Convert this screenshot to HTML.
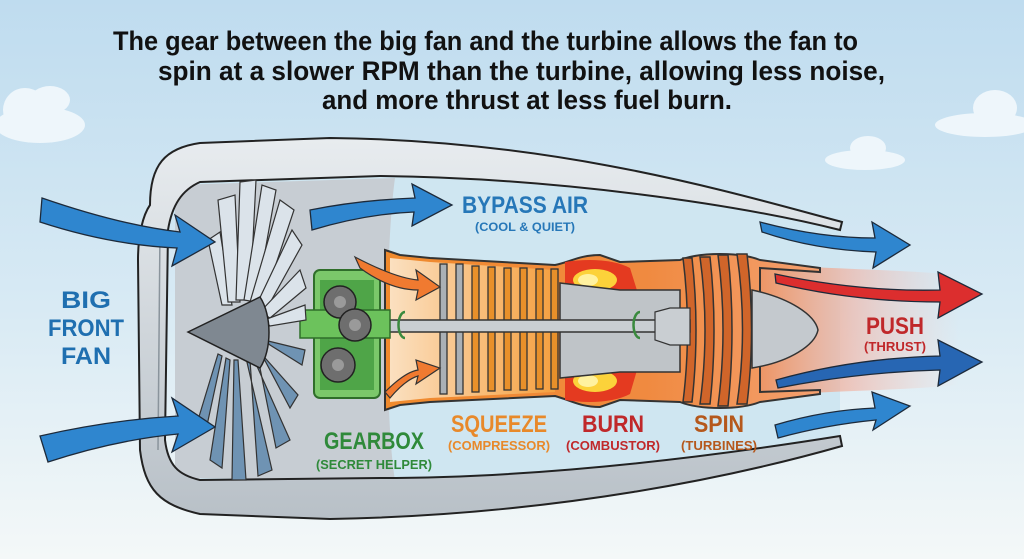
<!DOCTYPE html>
<html><head><meta charset="utf-8"><style>
html,body{margin:0;padding:0;width:1024px;height:559px;overflow:hidden}
svg{display:block}
text{font-family:"Liberation Sans",sans-serif;font-weight:bold}
</style></head><body>
<svg width="1024" height="559" viewBox="0 0 1024 559" xmlns="http://www.w3.org/2000/svg">
<defs>
<linearGradient id="sky" x1="0" y1="0" x2="0" y2="1">
<stop offset="0" stop-color="#bfdcef"/><stop offset="0.55" stop-color="#d8eaf4"/><stop offset="1" stop-color="#f4f8f8"/></linearGradient>
<linearGradient id="comp" x1="0" y1="0" x2="1" y2="0">
<stop offset="0" stop-color="#fbe0c0"/><stop offset="1" stop-color="#f5a040"/></linearGradient>
<linearGradient id="hot" x1="0" y1="0" x2="1" y2="0">
<stop offset="0" stop-color="#f08a2c"/><stop offset="0.6" stop-color="#f08a40"/><stop offset="1" stop-color="#f4a070"/></linearGradient>
<linearGradient id="plume" x1="0" y1="0" x2="1" y2="0">
<stop offset="0" stop-color="#f08a50" stop-opacity="0.95"/><stop offset="0.5" stop-color="#f2b0a0" stop-opacity="0.6"/><stop offset="1" stop-color="#f4c8c0" stop-opacity="0"/></linearGradient>
<linearGradient id="nac" x1="0" y1="0" x2="0" y2="1">
<stop offset="0" stop-color="#e8ecef"/><stop offset="1" stop-color="#b8c0c7"/></linearGradient>
</defs>
<rect width="1024" height="559" fill="url(#sky)"/>
<g fill="#eef6fb">
<ellipse cx="40" cy="125" rx="45" ry="18"/><ellipse cx="25" cy="110" rx="22" ry="22"/><ellipse cx="50" cy="100" rx="20" ry="14"/>
<ellipse cx="985" cy="125" rx="50" ry="12"/><ellipse cx="995" cy="108" rx="22" ry="18"/>
<ellipse cx="865" cy="160" rx="40" ry="10"/><ellipse cx="868" cy="148" rx="18" ry="12"/>
</g>
<g fill="#111" text-anchor="start">
<text x="113" y="50" font-size="27" textLength="745" lengthAdjust="spacingAndGlyphs">The gear between the big fan and the turbine allows the fan to</text>
<text x="158" y="80" font-size="27" textLength="727" lengthAdjust="spacingAndGlyphs">spin at a slower RPM than the turbine, allowing less noise,</text>
<text x="322" y="109" font-size="27" textLength="410" lengthAdjust="spacingAndGlyphs">and more thrust at less fuel burn.</text>
</g>
<!-- nacelle interior -->
<path d="M190,180 L380,176 C600,180 760,215 840,228 L840,438 C760,450 600,478 380,478 L200,480 Z" fill="#cfe6f1"/>
<path d="M175,185 L395,178 C385,250 385,420 395,480 L175,478 Z" fill="#c7cdd3"/>
<!-- plume -->
<path d="M750,262 C820,270 880,268 960,275 L960,385 C880,392 820,390 750,398 Z" fill="url(#plume)"/>
<!-- nacelle -->
<path d="M150,205 C150,165 165,148 200,143 L330,138 C560,140 740,195 842,222 L840,230 C740,205 560,178 380,176 L200,182 C182,190 172,205 168,230 L165,440 C168,465 178,475 200,480 L380,478 C560,478 740,452 840,436 L842,446 C740,475 560,515 330,519 L200,514 C160,505 145,490 140,450 L138,260 C138,235 143,215 150,205 Z" fill="url(#nac)" stroke="#222" stroke-width="2"/>
<path d="M160,230 L158,450" stroke="#8a949c" stroke-width="1.5" fill="none"/>
<!-- core -->
<path d="M385,250 L400,255 L430,258 L555,265 C570,262 580,255 600,255 L620,262 L680,260 C700,252 740,252 760,260 L820,268 L820,272 L760,268 L760,392 L820,390 L820,394 L760,402 C740,410 700,410 680,402 L620,400 L600,407 C580,407 570,400 555,396 L430,402 L400,405 L385,410 Z" fill="url(#hot)" stroke="#333" stroke-width="2"/>
<path d="M390,258 L430,262 L555,270 L555,392 L430,398 L390,402 Z" fill="url(#comp)"/>
<path d="M565,262 C590,258 615,260 630,268 L640,300 L565,300 Z" fill="#e43a20"/>
<path d="M565,360 L640,360 L630,394 C615,402 590,404 565,400 Z" fill="#e43a20"/>
<g fill="#fcd23a"><ellipse cx="595" cy="280" rx="22" ry="11"/><ellipse cx="595" cy="381" rx="22" ry="11"/></g>
<g fill="#fff2a0"><ellipse cx="588" cy="280" rx="10" ry="6"/><ellipse cx="588" cy="381" rx="10" ry="6"/></g>
<path d="M560,283 L620,290 L680,290 L680,372 L620,372 L560,378 Z" fill="#bfc4c8" stroke="#333" stroke-width="1.5"/>
<g stroke="#333" stroke-width="1.3">
<rect x="440" y="264" width="7" height="130" fill="#aab0b5"/>
<rect x="456" y="264" width="7" height="130" fill="#aab0b5"/>
<rect x="472" y="266" width="7" height="126" fill="#e8902a"/>
<rect x="488" y="267" width="7" height="124" fill="#e8902a"/>
<rect x="504" y="268" width="7" height="122" fill="#e8902a"/>
<rect x="520" y="268" width="7" height="122" fill="#e8902a"/>
<rect x="536" y="269" width="7" height="120" fill="#e8902a"/>
<rect x="551" y="269" width="7" height="120" fill="#e8902a"/>
</g>
<g stroke="#333" stroke-width="1.5" fill="#d0652a">
<path d="M683,258 Q692,330 683,402 L692,402 Q700,330 692,258 Z"/>
<path d="M700,257 Q710,330 700,404 L710,404 Q718,330 710,257 Z"/>
<path d="M718,255 Q728,330 718,406 L728,406 Q736,330 728,255 Z"/>
<path d="M737,254 Q748,330 737,404 L747,404 Q756,330 747,254 Z"/>
</g>
<rect x="378" y="320" width="312" height="12" fill="#c9ced2" stroke="#333" stroke-width="1.5"/>
<path d="M655,312 L670,308 L690,308 L690,345 L670,345 L655,340 Z" fill="#c9ced2" stroke="#333" stroke-width="1.2"/>
<path d="M752,290 C790,298 815,315 818,330 C815,345 790,362 752,368 Z" fill="#c4c9ce" stroke="#333" stroke-width="1.5"/>
<g stroke="#3a8a3e" stroke-width="2.5" fill="none">
<path d="M405,312 A6,12 0 1,0 405,338"/><path d="M640,312 A6,12 0 1,0 640,338"/></g>
<rect x="314" y="270" width="66" height="128" rx="6" fill="#7bc86a" stroke="#2f6e2a" stroke-width="2"/>
<rect x="320" y="280" width="54" height="110" fill="#4fa548"/>
<rect x="300" y="310" width="90" height="28" fill="#6cc25c" stroke="#2f6e2a" stroke-width="1.5"/>
<g fill="#6e6e6e" stroke="#222" stroke-width="1.5">
<circle cx="340" cy="302" r="16"/><circle cx="355" cy="325" r="16"/><circle cx="338" cy="365" r="17"/></g>
<g fill="#9a9a9a"><circle cx="340" cy="302" r="6"/><circle cx="355" cy="325" r="6"/><circle cx="338" cy="365" r="6"/></g>
<!-- fan blades -->
<g stroke="#333" stroke-width="1.2">
<g fill="#dbe3ea">
<path d="M222,305 L208,240 L220,232 L232,305 Z"/>
<path d="M228,302 L218,200 L235,195 L240,302 Z"/>
<path d="M236,300 L240,182 L256,180 L250,300 Z"/>
<path d="M244,300 L262,185 L276,190 L256,302 Z"/>
<path d="M250,302 L280,200 L294,210 L262,306 Z"/>
<path d="M256,306 L292,230 L302,245 L266,310 Z"/>
<path d="M260,312 L300,270 L306,288 L270,318 Z"/>
<path d="M264,320 L305,305 L306,320 L270,326 Z"/>
</g>
<g fill="#6f93b3">
<path d="M264,340 L305,350 L302,365 L270,345 Z"/>
<path d="M258,350 L298,395 L290,408 L262,355 Z"/>
<path d="M252,355 L290,440 L276,448 L258,358 Z"/>
<path d="M246,358 L272,470 L258,476 L250,360 Z"/>
<path d="M238,360 L246,480 L232,480 L234,360 Z"/>
<path d="M230,360 L222,468 L210,460 L226,358 Z"/>
<path d="M222,356 L206,430 L198,420 L218,354 Z"/>
</g>
</g>
<path d="M188,332 L260,297 C272,315 272,350 260,368 Z" fill="#7f8891" stroke="#222" stroke-width="1.5"/>
<g stroke="#1d2a3a" stroke-width="1.3" fill="#2f86cf">
<path d="M42,198 Q120,225 180,232 L175,215 L215,242 L172,266 L177,248 Q110,245 40,222 Z"/>
<path d="M40,436 Q110,420 178,416 L172,398 L215,427 L172,452 L178,434 Q115,440 48,462 Z"/>
<path d="M310,210 Q360,200 415,198 L412,184 L452,205 L412,226 L414,212 Q365,214 312,230 Z"/>
<path d="M760,222 Q820,238 875,238 L872,222 L910,245 L873,268 L876,252 Q815,250 762,232 Z"/>
<path d="M775,425 Q825,410 875,408 L872,392 L910,406 L873,430 L876,420 Q825,425 778,438 Z"/>
</g>
<g stroke="#1d2a3a" stroke-width="1.3">
<path d="M775,274 Q860,292 940,290 L938,272 L982,294 L938,318 L940,302 Q855,302 776,283 Z" fill="#dc2e2e"/>
<path d="M776,380 Q855,358 940,356 L938,340 L982,362 L938,386 L940,370 Q860,372 778,388 Z" fill="#2766b3"/>
</g>
<g stroke="#333" stroke-width="1.2" fill="#f07a30">
<path d="M355,257 Q395,278 418,280 L416,270 L440,287 L416,300 L418,290 Q390,290 360,268 Z"/>
<path d="M385,392 Q405,372 418,370 L416,360 L440,368 L416,384 L418,376 Q405,380 390,398 Z"/>
</g>
<g text-anchor="middle">
<g fill="#1f6fb0" font-size="24"><text x="86" y="308" textLength="50" lengthAdjust="spacingAndGlyphs">BIG</text><text x="86" y="336" textLength="76" lengthAdjust="spacingAndGlyphs">FRONT</text><text x="86" y="364" textLength="50" lengthAdjust="spacingAndGlyphs">FAN</text></g>
<text x="525" y="213" font-size="24" fill="#2677b8" textLength="126" lengthAdjust="spacingAndGlyphs">BYPASS AIR</text>
<text x="525" y="231" font-size="12" fill="#2677b8" textLength="100" lengthAdjust="spacingAndGlyphs">(COOL &amp; QUIET)</text>
<text x="374" y="449" font-size="24" fill="#2f8a3a" textLength="100" lengthAdjust="spacingAndGlyphs">GEARBOX</text>
<text x="374" y="469" font-size="13" fill="#2f8a3a" textLength="116" lengthAdjust="spacingAndGlyphs">(SECRET HELPER)</text>
<text x="499" y="432" font-size="24" fill="#e8892a" textLength="96" lengthAdjust="spacingAndGlyphs">SQUEEZE</text>
<text x="499" y="450" font-size="13" fill="#e8892a" textLength="102" lengthAdjust="spacingAndGlyphs">(COMPRESSOR)</text>
<text x="613" y="432" font-size="24" fill="#c0282a" textLength="62" lengthAdjust="spacingAndGlyphs">BURN</text>
<text x="613" y="450" font-size="13" fill="#c0282a" textLength="94" lengthAdjust="spacingAndGlyphs">(COMBUSTOR)</text>
<text x="719" y="432" font-size="24" fill="#b5581c" textLength="50" lengthAdjust="spacingAndGlyphs">SPIN</text>
<text x="719" y="450" font-size="13" fill="#b5581c" textLength="76" lengthAdjust="spacingAndGlyphs">(TURBINES)</text>
<text x="895" y="334" font-size="24" fill="#c0282a" textLength="58" lengthAdjust="spacingAndGlyphs">PUSH</text>
<text x="895" y="351" font-size="13" fill="#c0282a" textLength="62" lengthAdjust="spacingAndGlyphs">(THRUST)</text>
</g>
</svg>
</body></html>
